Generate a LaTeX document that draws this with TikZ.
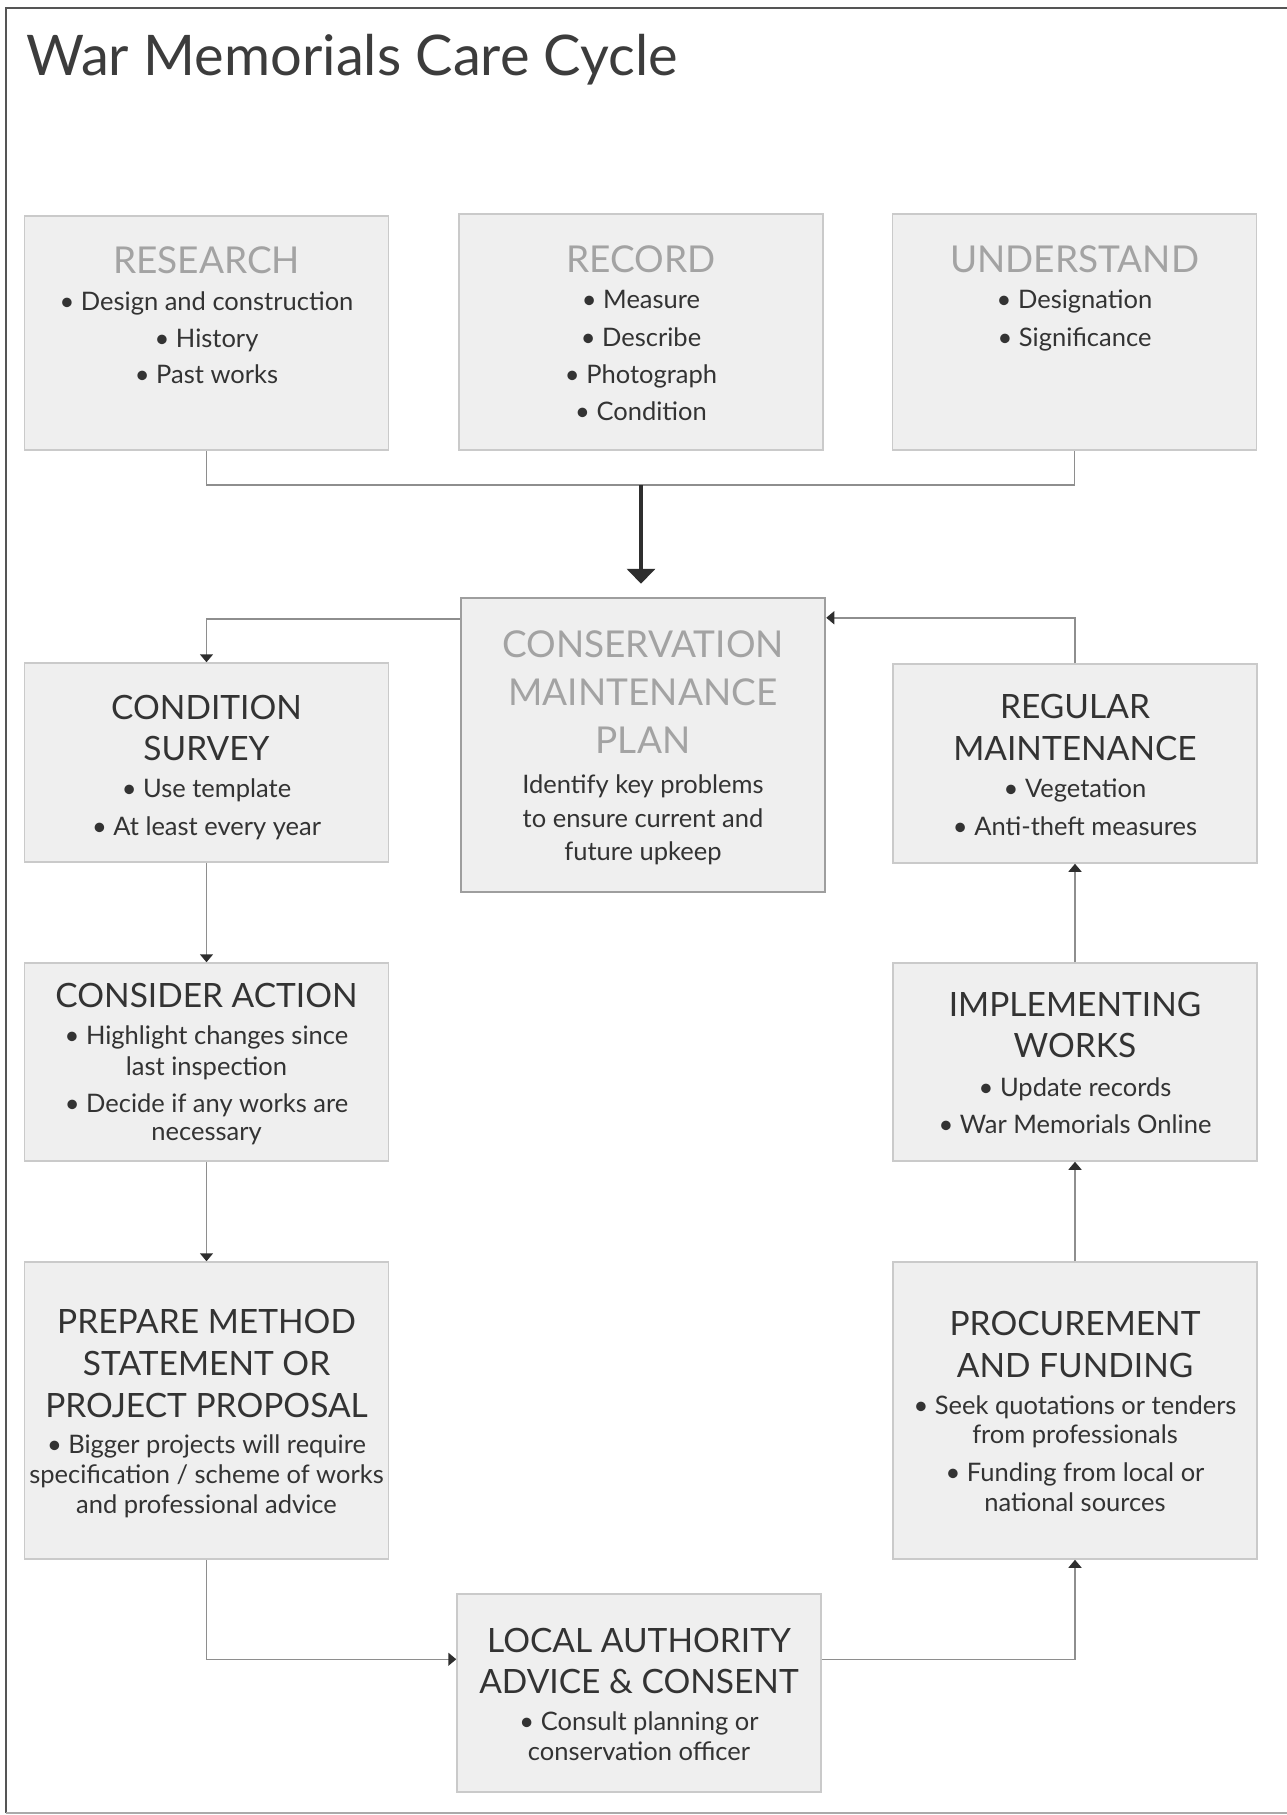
\documentclass[tikz,border=0pt]{standalone}
\usepackage{fontspec}
\setmainfont{Lato}
\usetikzlibrary{arrows.meta}
\definecolor{boxfill}{HTML}{EFEFEF}
\definecolor{boxline}{HTML}{CACACA}
\definecolor{cmpline}{HTML}{9E9E9E}
\definecolor{lightt}{HTML}{A3A3A3}
\definecolor{darkt}{HTML}{333333}
\definecolor{titlec}{HTML}{3C3C3C}
\definecolor{connc}{HTML}{8E8E8E}
\definecolor{tipc}{HTML}{2E2E2E}
\definecolor{framec}{HTML}{555555}
\begin{document}
\begin{tikzpicture}[x=1pt,y=-1pt,
  box/.style={draw=boxline, line width=1.5pt, fill=boxfill, inner sep=0pt, minimum width=364pt},
  hl/.style={anchor=base, inner sep=0pt, text=lightt, font=\fontsize{37}{40}\selectfont},
  hc/.style={anchor=base, inner sep=0pt, text=lightt, font=\fontsize{37}{40}\selectfont},
  hd/.style={anchor=base, inner sep=0pt, text=darkt, font=\fontsize{33.5}{38}\selectfont},
  bt/.style={anchor=base, inner sep=0pt, text=darkt, font=\fontsize{25.5}{28}\selectfont},
  conn/.style={draw=connc, line width=1.5pt},
  arr/.style={-{Triangle[width=13pt,length=8pt,color=tipc]}},
]
\useasboundingbox (0,0) rectangle (1286,1815);
\fill[white] (0,0) rectangle (1286,1815);
\draw[framec, line width=2pt] (6,1813) -- (6,8) -- (1290,8);
\draw[framec!50, line width=1.5pt] (6,1813) -- (1290,1813);

\node[anchor=base west, inner sep=0pt, text=titlec, font=\fontsize{56}{60}\selectfont] (title) at (26,75) {War Memorials Care Cycle};

% boxes
\node[box, minimum height=234pt] (research) at (206.5,333) {};
\node[box, minimum height=236pt] (record) at (641,332) {};
\node[box, minimum height=236pt] (understand) at (1074.5,332) {};
\node[box, draw=cmpline, line width=2.5pt, minimum height=294pt] (cmp) at (643,745) {};
\node[box, minimum height=199pt] (cs) at (206.5,762.5) {};
\node[box, minimum height=199pt] (rm) at (1075,763.5) {};
\node[box, minimum height=198pt] (ca) at (206.5,1062) {};
\node[box, minimum height=198pt] (iw) at (1075,1062) {};
\node[box, minimum height=297pt] (pm) at (206.5,1410.5) {};
\node[box, minimum height=297pt] (proc) at (1075,1410.5) {};
\node[box, minimum height=198pt] (la) at (639,1693) {};

% texts
\node[hl] (research-h) at (206.5,273) {RESEARCH};
\node[bt] (research-1) at (206.5,310) {• Design and construction};
\node[bt] (research-2) at (206.5,347) {• History};
\node[bt] (research-3) at (206.5,383) {• Past works};

\node[hl] (record-h) at (641,272) {RECORD};
\node[bt] (record-1) at (641,308) {• Measure};
\node[bt] (record-2) at (641,346) {• Describe};
\node[bt] (record-3) at (641,383) {• Photograph};
\node[bt] (record-4) at (641,420) {• Condition};

\node[hl] (understand-h) at (1074.5,272) {UNDERSTAND};
\node[bt] (understand-1) at (1074.5,308) {• Designation};
\node[bt] (understand-2) at (1074.5,346) {• Significance};

\node[hc] (cmp-h1) at (643,657) {CONSERVATION};
\node[hc] (cmp-h2) at (643,705) {MAINTENANCE};
\node[hc] (cmp-h3) at (643,753) {PLAN};
\node[bt] (cmp-1) at (643,793) {Identify key problems};
\node[bt] (cmp-2) at (643,827) {to ensure current and};
\node[bt] (cmp-3) at (643,860) {future upkeep};

\node[hd] (cs-h1) at (206.5,719) {CONDITION};
\node[hd] (cs-h2) at (206.5,760) {SURVEY};
\node[bt] (cs-1) at (206.5,797) {• Use template};
\node[bt] (cs-2) at (206.5,835) {• At least every year};

\node[hd] (rm-h1) at (1075,718) {REGULAR};
\node[hd] (rm-h2) at (1075,760) {MAINTENANCE};
\node[bt] (rm-1) at (1075,797) {• Vegetation};
\node[bt] (rm-2) at (1075,835) {• Anti-theft measures};

\node[hd] (ca-h) at (206.5,1007) {CONSIDER ACTION};
\node[bt] (ca-1) at (206.5,1044) {• Highlight changes since};
\node[bt] (ca-2) at (206.5,1075) {last inspection};
\node[bt] (ca-3) at (206.5,1112) {• Decide if any works are};
\node[bt] (ca-4) at (206.5,1140) {necessary};

\node[hd] (iw-h1) at (1075,1016) {IMPLEMENTING};
\node[hd] (iw-h2) at (1075,1057) {WORKS};
\node[bt] (iw-1) at (1075,1096) {• Update records};
\node[bt] (iw-2) at (1075,1133) {• War Memorials Online};

\node[hd] (pm-h1) at (206.5,1333) {PREPARE METHOD};
\node[hd] (pm-h2) at (206.5,1375) {STATEMENT OR};
\node[hd] (pm-h3) at (206.5,1417) {PROJECT PROPOSAL};
\node[bt] (pm-1) at (206.5,1453) {• Bigger projects will require};
\node[bt] (pm-2) at (206.5,1483) {specification / scheme of works};
\node[bt] (pm-3) at (206.5,1513) {and professional advice};

\node[hd] (proc-h1) at (1075,1335) {PROCUREMENT};
\node[hd] (proc-h2) at (1075,1377) {AND FUNDING};
\node[bt] (proc-1) at (1075,1414) {• Seek quotations or tenders};
\node[bt] (proc-2) at (1075,1443) {from professionals};
\node[bt] (proc-3) at (1075,1481) {• Funding from local or};
\node[bt] (proc-4) at (1075,1511) {national sources};

\node[hd] (la-h1) at (639,1652) {LOCAL AUTHORITY};
\node[hd] (la-h2) at (639,1693) {ADVICE \& CONSENT};
\node[bt] (la-1) at (639,1730) {• Consult planning or};
\node[bt] (la-2) at (639,1760) {conservation officer};

% connectors
\coordinate (bus) at (641,485);
\draw[conn] (research.south) |- (bus) -| (understand.south);
\draw[draw=tipc, line width=4pt, -{Triangle[width=28pt,length=15pt]}, shorten >=13pt] (bus) -- (bus |- cmp.north);
\draw[conn, arr] ([yshift=-22pt]cmp.north west) -| (cs.north);
\draw[conn, arr] (rm.north) |- ([yshift=-21pt]cmp.north east);
\draw[conn, arr] (cs.south) -- (ca.north);
\draw[conn, arr] (ca.south) -- (pm.north);
\draw[conn, arr] (pm.south) |- ([yshift=-66pt]la.north west);
\draw[conn, arr] ([yshift=-66pt]la.north east) -| (proc.south);
\draw[conn, arr] (proc.north) -- (iw.south);
\draw[conn, arr] (iw.north) -- (rm.south);
\end{tikzpicture}
\end{document}
